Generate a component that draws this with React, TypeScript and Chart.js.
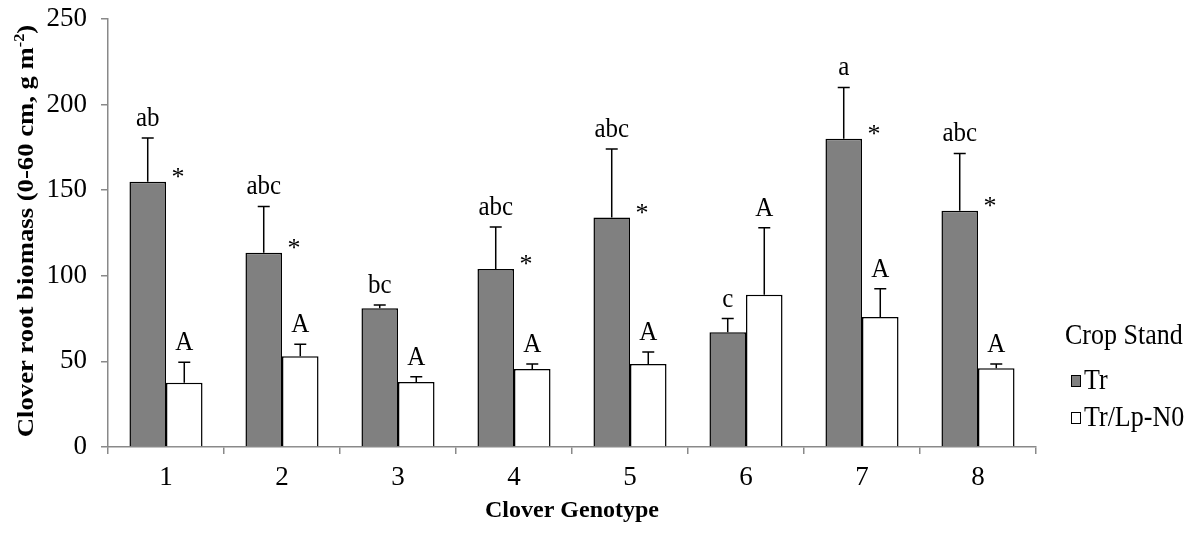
import React, { useEffect, useRef } from 'react';
import { Chart, registerables } from 'chart.js';

Chart.register(...registerables);

const genotypes = ['1', '2', '3', '4', '5', '6', '7', '8'];
const seriesNames = ['Tr', 'Tr/Lp-N0'];
const trValues = [155, 113.5, 81, 104, 134, 67, 180, 138];
const trErrors = [25.5, 27, 2, 24.5, 40, 8, 30, 33.5];
const mixValues = [37.5, 53, 38, 45.5, 48.5, 89, 76, 46];
const mixErrors = [12, 7, 3, 3, 7, 39, 16.5, 2.5];
const trLetters = ['ab', 'abc', 'bc', 'abc', 'abc', 'c', 'a', 'abc'];
const mixLetters = ['A', 'A', 'A', 'A', 'A', 'A', 'A', 'A'];
const trStars = [true, true, false, true, true, false, true, true];
const yTicks = [0, 50, 100, 150, 200, 250];
const legendTitle = 'Crop Stand';
const xTitle = 'Clover Genotype';
const yTitleMain = 'Clover root biomass (0-60 cm, g m';
const yTitleSup = '-2';
const yTitleEnd = ')';

const SERIF = '"Liberation Serif", "Times New Roman", serif';
const AXIS_GRAY = '#898989';
const DARK = '#808080';

const overlayPlugin = {
  id: 'overlay',
  afterDatasetsDraw(chart: any) {
    const ctx = chart.ctx;
    const y = chart.scales.y;
    const errs = [trErrors, mixErrors];
    const letters = [trLetters, mixLetters];
    chart.data.datasets.forEach((ds: any, di: number) => {
      const meta = chart.getDatasetMeta(di);
      meta.data.forEach((bar: any, i: number) => {
        const v = ds.data[i];
        const top = y.getPixelForValue(v + errs[di][i]);
        ctx.save();
        ctx.strokeStyle = '#000';
        ctx.lineWidth = 1.5;
        ctx.beginPath();
        ctx.moveTo(bar.x, bar.y);
        ctx.lineTo(bar.x, top);
        ctx.moveTo(bar.x - 6, top);
        ctx.lineTo(bar.x + 6, top);
        ctx.stroke();
        ctx.fillStyle = '#000';
        ctx.textAlign = 'center';
        ctx.textBaseline = 'alphabetic';
        ctx.font = `25px ${SERIF}`;
        ctx.save();
        ctx.translate(bar.x, top - 12);
        ctx.scale(1, 1.12);
        ctx.fillText(letters[di][i], 0, 0);
        ctx.restore();
        if (di === 0 && trStars[i]) {
          ctx.font = `26px ${SERIF}`;
          ctx.fillText('*', bar.x + bar.width / 2 + 12, bar.y + 3);
        }
        ctx.restore();
      });
    });
  },
  afterDraw(chart: any) {
    const ctx = chart.ctx;
    const area = chart.chartArea;
    // Y axis title with superscript
    ctx.save();
    ctx.fillStyle = '#000';
    const mainFont = `bold 23px ${SERIF}`;
    const supFont = `bold 14px ${SERIF}`;
    ctx.font = mainFont;
    const w1 = ctx.measureText(yTitleMain).width;
    const w3 = ctx.measureText(yTitleEnd).width;
    ctx.font = supFont;
    const w2 = ctx.measureText(yTitleSup).width;
    const total = w1 + w2 + w3;
    const cy = (area.top + area.bottom) / 2 - 2;
    ctx.translate(33, cy);
    ctx.rotate(-Math.PI / 2);
    ctx.scale(1.16, 1);
    ctx.textAlign = 'left';
    ctx.textBaseline = 'alphabetic';
    let x = -total / 2;
    ctx.font = mainFont;
    ctx.fillText(yTitleMain, x, 0);
    x += w1;
    ctx.font = supFont;
    ctx.fillText(yTitleSup, x, -9);
    x += w2;
    ctx.font = mainFont;
    ctx.fillText(yTitleEnd, x, 0);
    ctx.restore();

    // Legend
    ctx.save();
    ctx.fillStyle = '#000';
    ctx.textAlign = 'left';
    ctx.textBaseline = 'alphabetic';
    ctx.font = `26px ${SERIF}`;
    const drawStretched = (t: string, tx: number, ty: number) => {
      ctx.save();
      ctx.translate(tx, ty);
      ctx.scale(1, 1.12);
      ctx.fillText(t, 0, 0);
      ctx.restore();
    };
    drawStretched(legendTitle, 1065, 344);
    const items = chart.data.datasets.map((d: any, i: number) => ({
      name: seriesNames[i],
      fill: d.backgroundColor,
    }));
    const boxY = [381, 418];
    const textY = [389, 426];
    items.forEach((it: any, i: number) => {
      ctx.fillStyle = it.fill;
      ctx.fillRect(1071, boxY[i] - 6, 10, 12);
      ctx.strokeStyle = '#000';
      ctx.lineWidth = 1;
      ctx.strokeRect(1071.5, boxY[i] - 5.5, 9, 11);
      ctx.fillStyle = '#000';
      drawStretched(it.name, 1084, textY[i]);
    });
    ctx.restore();
  },
};

export default function App() {
  const canvasRef = useRef<HTMLCanvasElement | null>(null);

  useEffect(() => {
    if (!canvasRef.current) return;
    const chart = new Chart(canvasRef.current, {
      type: 'bar',
      data: {
        labels: genotypes,
        datasets: [
          {
            label: seriesNames[0],
            data: trValues,
            backgroundColor: DARK,
            borderColor: '#000',
            borderWidth: 1.5,
            categoryPercentage: 0.63,
            barPercentage: 1,
          },
          {
            label: seriesNames[1],
            data: mixValues,
            backgroundColor: '#ffffff',
            borderColor: '#000',
            borderWidth: 1.5,
            categoryPercentage: 0.63,
            barPercentage: 1,
          },
        ],
      },
      options: {
        responsive: false,
        animation: false,
        layout: { padding: { top: 19, right: 168, left: 0, bottom: 0 } },
        plugins: {
          legend: { display: false },
          tooltip: { enabled: false },
        },
        scales: {
          x: {
            grid: {
              display: true,
              drawOnChartArea: false,
              drawTicks: true,
              tickLength: 7,
              offset: true,
              color: AXIS_GRAY,
              lineWidth: 1.5,
            },
            border: { display: true, color: AXIS_GRAY, width: 1.5 },
            ticks: {
              color: '#000',
              font: { family: SERIF, size: 27 },
              padding: 8,
            },
            title: {
              display: true,
              text: xTitle,
              color: '#000',
              font: { family: SERIF, size: 24, weight: 'bold' },
              padding: { top: 0, bottom: 8 },
            },
            afterFit: (s: any) => {
              s.height = 86;
              s.paddingLeft = 0;
              s.paddingRight = 0;
            },
          },
          y: {
            min: 0,
            max: 250,
            afterBuildTicks: (s: any) => {
              s.ticks = yTicks.map((v) => ({ value: v }));
            },
            grid: {
              display: true,
              drawOnChartArea: false,
              drawTicks: true,
              tickLength: 7,
              color: AXIS_GRAY,
              lineWidth: 1.5,
            },
            border: { display: true, color: AXIS_GRAY, width: 1.5 },
            ticks: {
              color: '#000',
              font: { family: SERIF, size: 27 },
              padding: 14,
            },
            afterFit: (s: any) => {
              s.width = 108;
              s.paddingTop = 0;
              s.paddingBottom = 0;
            },
          },
        },
      } as any,
      plugins: [overlayPlugin],
    });
    return () => chart.destroy();
  }, []);

  return (
    <div style={{ position: 'absolute', left: 0, top: 0, width: 1204, height: 533, background: '#fff' }}>
      <canvas ref={canvasRef} width={1204} height={533} />
    </div>
  );
}
